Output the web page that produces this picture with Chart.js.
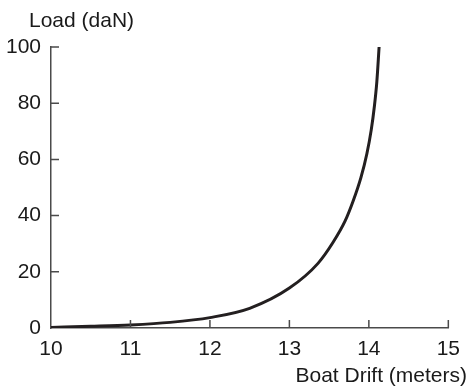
<!DOCTYPE html>
<html>
<head>
<meta charset="utf-8">
<script src="https://cdn.jsdelivr.net/npm/chart.js@4"></script>
<style>
  html, body { margin: 0; padding: 0; background: #fff; }
  #wrap { width: 469px; height: 388px; }
</style>
</head>
<body>
<div id="wrap"><canvas id="driftChart" width="469" height="388"></canvas></div>
<script>
// drift vs. load readings
const driftMeters = [10.0, 10.5, 11.0, 11.5, 12.0, 12.5, 13.0, 13.36, 13.55, 13.7, 13.8, 13.9, 13.975, 14.03, 14.07, 14.1, 14.129];
const loadDaN     = [0.2, 0.6, 1.1, 2.0, 3.7, 7.0, 14.2, 23.0, 30.5, 38.0, 45.0, 53.5, 62.0, 70.5, 79.0, 87.5, 100.0];
const xTicks = [10, 11, 12, 13, 14, 15];
const yTicks = [0, 20, 40, 60, 80, 100];

const FONT = '"Liberation Sans", Arial, Helvetica, sans-serif';
const AXIS_COLOR = '#4a4a4a';

// axis titles + inward tick marks
const axisDecor = {
    id: 'axisDecor',
    afterDraw(chart) {
        const ctx = chart.ctx;
        const area = chart.chartArea;
        const xs = chart.scales.x;
        const ys = chart.scales.y;
        ctx.save();
        ctx.strokeStyle = AXIS_COLOR;
        ctx.lineWidth = 1.5;
        ctx.beginPath();
        xTicks.forEach(v => {
            if (v === xTicks[0]) return;
            const px = xs.getPixelForValue(v);
            ctx.moveTo(px, area.bottom);
            ctx.lineTo(px, area.bottom - 8);
        });
        yTicks.forEach(v => {
            if (v === yTicks[0]) return;
            const py = ys.getPixelForValue(v);
            ctx.moveTo(area.left, py);
            ctx.lineTo(area.left + 8, py);
        });
        ctx.stroke();

        ctx.fillStyle = '#1a1a1a';
        ctx.font = '21px ' + FONT;
        ctx.textBaseline = 'middle';
        ctx.textAlign = 'left';
        ctx.fillText('Load (daN)', 29, 21);
        ctx.textAlign = 'right';
        ctx.fillText('Boat Drift (meters)', 467, 376);
        ctx.restore();
    }
};

new Chart(document.getElementById('driftChart'), {
    type: 'line',
    data: {
        datasets: [{
            data: driftMeters.map((x, i) => ({ x: x, y: loadDaN[i] })),
            borderColor: '#231f20',
            borderWidth: 3,
            pointRadius: 0,
            cubicInterpolationMode: 'monotone',
            fill: false
        }]
    },
    options: {
        responsive: false,
        animation: false,
        layout: { padding: { left: 0, top: 47, right: 19, bottom: 0 } },
        plugins: {
            legend: { display: false },
            tooltip: { enabled: false }
        },
        scales: {
            x: {
                type: 'linear',
                min: 10,
                max: 15,
                afterFit(scale) { scale.height = 60; },
                afterBuildTicks(scale) { scale.ticks = xTicks.map(v => ({ value: v })); },
                grid: { display: false, drawTicks: false },
                border: { display: true, color: AXIS_COLOR, width: 1.5 },
                ticks: {
                    color: '#1a1a1a',
                    font: { family: FONT, size: 21 },
                    padding: 9,
                    maxRotation: 0
                }
            },
            y: {
                type: 'linear',
                min: 0,
                max: 100,
                afterFit(scale) { scale.width = 51; },
                afterBuildTicks(scale) { scale.ticks = yTicks.map(v => ({ value: v })); },
                grid: { display: false, drawTicks: false },
                border: { display: true, color: AXIS_COLOR, width: 1.5 },
                ticks: {
                    color: '#1a1a1a',
                    font: { family: FONT, size: 21 },
                    padding: 10
                }
            }
        }
    },
    plugins: [axisDecor]
});
</script>
</body>
</html>
